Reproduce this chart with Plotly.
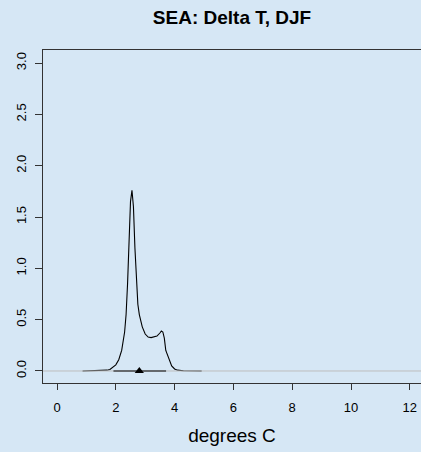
import plotly.graph_objects as go

# Density curve
dens_x = [0.87, 1.2, 1.5, 1.7, 1.8, 1.9, 2.0, 2.1, 2.2, 2.3, 2.35, 2.4, 2.45, 2.5, 2.55,
          2.6, 2.65, 2.7, 2.75, 2.8, 2.9, 3.0, 3.1, 3.2, 3.3, 3.4, 3.5, 3.55, 3.6, 3.65,
          3.7, 3.8, 3.9, 4.0, 4.1, 4.3, 4.6, 4.92]
dens_y = [0.0, 0.001, 0.003, 0.008, 0.015, 0.035, 0.06, 0.11, 0.2, 0.38, 0.55, 0.85, 1.25, 1.65, 1.76,
          1.6, 1.2, 0.85, 0.65, 0.55, 0.43, 0.36, 0.33, 0.325, 0.33, 0.34, 0.37, 0.39, 0.38, 0.32,
          0.2, 0.12, 0.05, 0.02, 0.008, 0.003, 0.001, 0.0]

# Range bar and central marker
range_x = [1.92, 3.71]
range_y = [0.0, 0.0]
center_x = [2.8]
center_y = [0.0]

x_ticks = [0, 2, 4, 6, 8, 10, 12]
y_ticks = [0.0, 0.5, 1.0, 1.5, 2.0, 2.5, 3.0]
y_ticktext = ["0.0", "0.5", "1.0", "1.5", "2.0", "2.5", "3.0"]

X_RANGE = [-0.476, 12.38]
Y_RANGE = [-0.117, 3.127]

BG = "#d6e7f5"
AX = "#333333"
FONT = "Liberation Sans, Arial, sans-serif"

fig = go.Figure()
fig.add_trace(go.Scatter(x=dens_x, y=dens_y, mode="lines",
                         line=dict(color="black", width=1.1), hoverinfo="skip"))
# horizontal reference line at zero across the whole panel
fig.add_trace(go.Scatter(x=X_RANGE, y=[0, 0], mode="lines",
                         line=dict(color="#bdbdbd", width=1), hoverinfo="skip"))
fig.add_trace(go.Scatter(x=range_x, y=range_y, mode="lines",
                         line=dict(color="black", width=1.2), hoverinfo="skip"))
fig.add_trace(go.Scatter(x=center_x, y=center_y, mode="markers",
                         marker=dict(symbol="triangle-up", size=8, color="black"),
                         hoverinfo="skip"))

fig.update_layout(
    width=421, height=452, autosize=False,
    margin=dict(l=43, r=0, t=50, b=69, pad=0),
    paper_bgcolor=BG, plot_bgcolor=BG,
    showlegend=False,
    font=dict(family=FONT, color="black"),
    title=dict(text="<b>SEA: Delta T, DJF</b>", x=0.5, xref="paper", xanchor="center",
               y=1 - 17 / 452, yref="container", yanchor="middle",
               font=dict(size=19, family=FONT, color="black")),
    xaxis=dict(range=X_RANGE, tickvals=x_ticks, ticks="outside", ticklen=6,
               tickcolor=AX, tickwidth=1, showline=True, linecolor=AX, linewidth=1,
               mirror=True, showgrid=False, zeroline=False,
               tickfont=dict(size=13, family=FONT, color="black"),
               ticklabelstandoff=6,
               title=dict(text="degrees C", font=dict(size=19, family=FONT, color="black"),
                          standoff=15)),
    yaxis=dict(range=Y_RANGE, tickvals=y_ticks, ticktext=y_ticktext,
               tickangle=-90, ticks="outside", ticklen=7, tickcolor=AX, tickwidth=1,
               showline=True, linecolor=AX, linewidth=1, showgrid=False, zeroline=False,
               tickfont=dict(size=13, family=FONT, color="black"),
               ticklabelstandoff=4),
)

fig.write_html("out.html")
